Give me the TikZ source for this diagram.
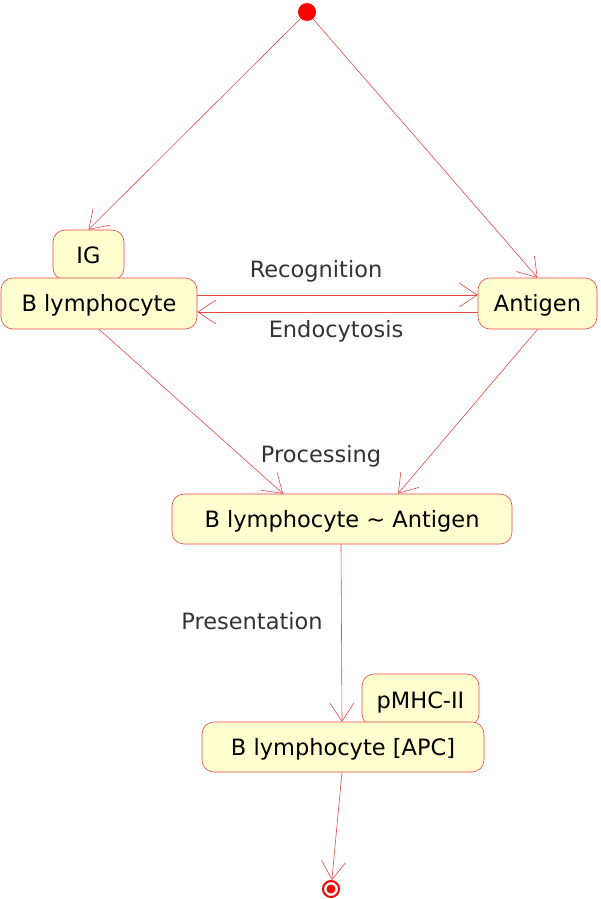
\documentclass[tikz,border=0pt]{standalone}
\usepackage{fontspec}
\setmainfont{DejaVu Sans}
\usetikzlibrary{arrows.meta}
\definecolor{edgered}{RGB}{232,70,70}
\definecolor{boxfill}{RGB}{254,254,206}
\definecolor{labelgray}{RGB}{51,51,51}
\tikzset{
  statebox/.style={draw=edgered, fill=boxfill, line width=0.6pt, rounded corners=12pt,
    inner sep=0pt, font=\fontsize{22.5}{26}\selectfont, text height=16.4pt, text depth=0pt},
  flow/.style={draw=edgered, line width=0.6pt, -{Straight Barb[length=18pt,width=24pt]}},
  flowlabel/.style={font=\fontsize{22.5}{26}\selectfont, text=labelgray, inner sep=0pt,
    text height=16.4pt, text depth=0pt}
}
\begin{document}
\begin{tikzpicture}[x=1pt,y=-1pt]
\useasboundingbox (0,0) rectangle (600,899);
% nodes
\node[circle, fill=red, minimum size=18pt, inner sep=0pt] (start) at (307,12) {};
\node[statebox, minimum width=71pt, minimum height=50pt] (ig) at (88.5,255) {IG};
\node[statebox, minimum width=196pt, minimum height=51pt] (blym) at (99,303.5) {B lymphocyte};
\node[statebox, minimum width=119pt, minimum height=51pt] (antigen) at (537.5,303.5) {Antigen};
\node[statebox, minimum width=340pt, minimum height=50pt] (bla) at (342,519) {B lymphocyte \textasciitilde{} Antigen};
\node[statebox, minimum width=117pt, minimum height=52pt] (pmhc) at (420.5,700) {pMHC-II};
\node[statebox, minimum width=282pt, minimum height=50pt] (apc) at (343,747) {B lymphocyte [APC]};
\node[circle, draw=red, line width=2pt, minimum size=16pt, inner sep=0pt] (end) at (331,889) {};
\fill[red] (end.center) circle (4.5pt);
% labels
\node[flowlabel] (recog) at (316,269) {Recognition};
\node[flowlabel] (endo) at (336,329) {Endocytosis};
\node[flowlabel] (proc) at (321,454) {Processing};
\node[flowlabel] (pres) at (252,621) {Presentation};
% connectors
\draw[flow] (start) -- (ig.north);
\draw[flow] (start) -- (antigen.north);
\draw[flow] ([yshift=8.5pt]blym.east) -- ([yshift=8.5pt]antigen.west);
\draw[flow] ([yshift=-8.5pt]antigen.west) -- ([yshift=-8.5pt]blym.east);
\draw[flow] (blym.south) -- ([xshift=-59pt]bla.north);
\draw[flow] (antigen.south) -- ([xshift=56pt]bla.north);
\draw[flow] ([xshift=-1pt]bla.south) -- ([xshift=-1pt]apc.north);
\draw[flow] ([xshift=-1pt]apc.south) -- (end);
\end{tikzpicture}
\end{document}
